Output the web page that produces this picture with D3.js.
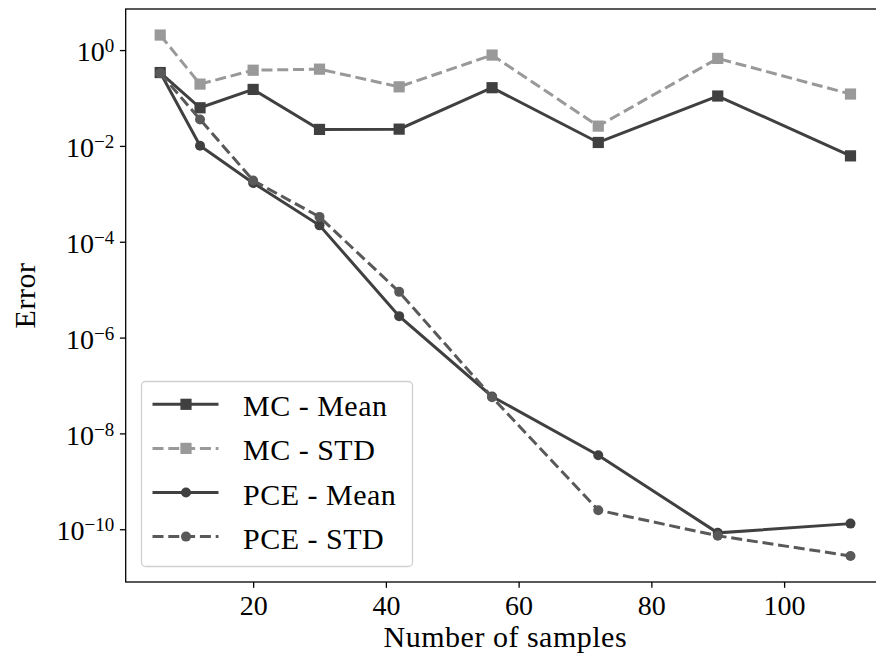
<!DOCTYPE html>
<html>
<head>
<meta charset="utf-8">
<script src="https://cdn.jsdelivr.net/npm/d3@7"></script>
<style>
  body { margin: 0; background: #fff; }
  text { font-family: "Liberation Serif", "Times New Roman", serif; fill: #000; }
</style>
</head>
<body>
<div id="chart"></div>
<script>
var samples = [6, 12, 20, 30, 42, 56, 72, 90, 110];
var mcMean = [0.34, 0.0625, 0.151, 0.0221, 0.0224, 0.164, 0.0118, 0.11, 0.0062];
var mcStd = [2.06, 0.195, 0.38, 0.40, 0.171, 0.787, 0.0259, 0.67, 0.121];
var pceMean = [0.34, 0.0101, 1.68e-3, 2.2e-4, 2.8e-6, 5.9e-8, 3.5e-9, 8.4e-11, 1.31e-10];
var pceStd = [0.33, 0.0357, 1.9e-3, 3.3e-4, 9.0e-6, 5.7e-8, 2.5e-10, 7.3e-11, 2.77e-11];
var seriesNames = ["MC - Mean", "MC - STD", "PCE - Mean", "PCE - STD"];
var xTicks = [20, 40, 60, 80, 100];
var yExps = [0, -2, -4, -6, -8, -10];

var series = [
  { name: seriesNames[0], values: mcMean, color: "#404040", dash: null, marker: "square" },
  { name: seriesNames[1], values: mcStd, color: "#999999", dash: "11,4.8", marker: "square" },
  { name: seriesNames[2], values: pceMean, color: "#404040", dash: null, marker: "circle" },
  { name: seriesNames[3], values: pceStd, color: "#595959", dash: "11,4.8", marker: "circle" }
];

var W = 876, H = 655;
var margin = { top: 9, left: 125.7 };
var w = 759.3, h = 573;

var svg = d3.select("#chart").append("svg").attr("width", W).attr("height", H);
var g = svg.append("g").attr("transform", "translate(" + margin.left + "," + margin.top + ")");

// matplotlib style 5% margins
var xMin = d3.min(samples), xMax = d3.max(samples), xPad = (xMax - xMin) * 0.05;
var xScale = d3.scaleLinear().domain([xMin - xPad, xMax + xPad]).range([0, w]);

var all = [].concat(mcMean, mcStd, pceMean, pceStd);
var lMin = Math.log10(d3.min(all)), lMax = Math.log10(d3.max(all)), lPad = (lMax - lMin) * 0.05;
var yScale = d3.scaleLog().domain([Math.pow(10, lMin - lPad), Math.pow(10, lMax + lPad)]).range([h, 0]);

g.append("clipPath").attr("id", "clip").append("rect").attr("width", w).attr("height", h);

// axes
var xAxis = d3.axisBottom(xScale).tickValues(xTicks).tickSize(5.8).tickFormat(d3.format("d"));
var gx = g.append("g").attr("transform", "translate(0," + h + ")").call(xAxis);
gx.select(".domain").remove();
gx.selectAll(".tick line").attr("stroke", "#000").attr("stroke-width", 1.3);
gx.selectAll(".tick text").attr("font-size", 28).attr("font-family", "Liberation Serif").attr("y", 33).attr("dy", 0);

var yAxis = d3.axisLeft(yScale).tickValues(yExps.map(function (e) { return Math.pow(10, e); })).tickSize(5.8).tickFormat("");
var gy = g.append("g").call(yAxis);
gy.select(".domain").remove();
gy.selectAll(".tick line").attr("stroke", "#000").attr("stroke-width", 1.3);
gy.selectAll(".tick text").remove();
gy.selectAll(".tick").each(function (d) {
  var e = Math.round(Math.log10(d));
  var t = d3.select(this).append("text").attr("x", -11.4).attr("y", 10.7).attr("text-anchor", "end").attr("font-size", 28);
  t.append("tspan").text("10");
  t.append("tspan").attr("dy", -9).attr("font-size", 19).text(e < 0 ? "\u2212" + (-e) : String(e));
});

// spines
g.append("rect").attr("width", w).attr("height", h).attr("fill", "none").attr("stroke", "#000").attr("stroke-width", 1.3);

// lines and markers
var line = d3.line().x(function (d, i) { return xScale(samples[i]); }).y(function (d) { return yScale(d); });
var plot = g.append("g").attr("clip-path", "url(#clip)");

function drawMarker(sel, s, cx, cy) {
  if (s.marker === "square") {
    sel.append("rect").attr("x", cx - 5.6).attr("y", cy - 5.6).attr("width", 11.2).attr("height", 11.2).attr("fill", s.color);
  } else {
    sel.append("circle").attr("cx", cx).attr("cy", cy).attr("r", 5).attr("fill", s.color);
  }
}

series.forEach(function (s) {
  var sg = plot.append("g");
  sg.append("path").datum(s.values).attr("d", line).attr("fill", "none").attr("stroke", s.color)
    .attr("stroke-width", 3).attr("stroke-dasharray", s.dash);
  s.values.forEach(function (v, i) {
    drawMarker(sg, s, xScale(samples[i]), yScale(v));
  });
});

// legend
var leg = svg.append("g").attr("transform", "translate(141.5,381.5)");
leg.append("rect").attr("width", 271).attr("height", 185).attr("rx", 4).attr("fill", "#fff").attr("fill-opacity", 0.8)
  .attr("stroke", "#d0d0d0").attr("stroke-width", 1.3);
series.forEach(function (s, i) {
  var cy = 22.8 + i * 44.1;
  var row = leg.append("g");
  row.append("line").attr("x1", 11).attr("x2", 77).attr("y1", cy).attr("y2", cy).attr("stroke", s.color)
    .attr("stroke-width", 3).attr("stroke-dasharray", s.dash);
  drawMarker(row, s, 44.5, cy);
  row.append("text").attr("x", 101.5).attr("y", cy + 12).attr("font-size", 30).attr("letter-spacing", 0.5).text(s.name);
});

// axis titles
svg.append("text").attr("x", margin.left + w / 2).attr("y", 646.5).attr("text-anchor", "middle").attr("font-size", 30)
  .attr("letter-spacing", 0.5).text("Number of samples");
svg.append("text").attr("transform", "translate(35," + (margin.top + h / 2) + ") rotate(-90)").attr("text-anchor", "middle")
  .attr("font-size", 30).attr("letter-spacing", 0.5).text("Error");
</script>
</body>
</html>
